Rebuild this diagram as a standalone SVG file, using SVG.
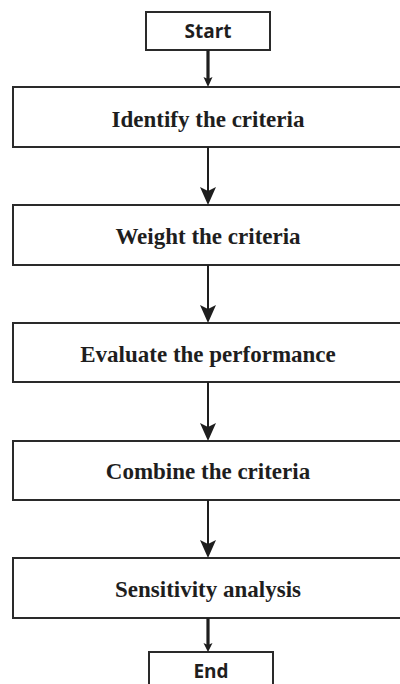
<svg xmlns="http://www.w3.org/2000/svg" width="400" height="684" viewBox="0 0 400 684">
<defs>
<style>
.box{fill:#fff;stroke:#2a2a2a;stroke-width:2}
.t{font-family:"Liberation Serif","Times New Roman",serif;font-weight:bold;font-size:23px;fill:#1e1e1e;text-anchor:middle}
.s{font-family:"Open Sans","Liberation Sans",sans-serif;font-weight:bold;font-size:19px;fill:#1e1e1e;text-anchor:middle}
.thin{stroke:#1e1e1e;stroke-width:2;fill:none}
.thick{stroke:#1e1e1e;stroke-width:3.2;fill:none}
.head{fill:#1e1e1e}
</style>
</defs>
<rect width="400" height="684" fill="#fff"/>
<g id="start"><rect class="box" x="146" y="12" width="124" height="38"/><text class="s" x="208" y="37.5">Start</text></g>
<g id="identify"><rect class="box" x="13" y="87" width="395" height="60"/><text class="t" x="208" y="126.5">Identify the criteria</text></g>
<g id="weight"><rect class="box" x="13" y="205" width="395" height="60"/><text class="t" x="208" y="244">Weight the criteria</text></g>
<g id="evaluate"><rect class="box" x="13" y="323" width="395" height="59"/><text class="t" x="208" y="361.5">Evaluate the performance</text></g>
<g id="combine"><rect class="box" x="13" y="441" width="395" height="59"/><text class="t" x="208" y="479">Combine the criteria</text></g>
<g id="sensitivity"><rect class="box" x="13" y="558" width="395" height="60"/><text class="t" x="208" y="597">Sensitivity analysis</text></g>
<g id="end"><rect class="box" x="149" y="652" width="124" height="40"/><text class="s" x="211" y="677.5">End</text></g>
<g id="connectors">
<line class="thick" x1="208" y1="50" x2="208" y2="80"/><path class="head" d="M208 87 L203.5 77 L208 79 L212.5 77 Z"/>
<line class="thin" x1="208" y1="147" x2="208" y2="195"/><path class="head" d="M208 205 L200 187 L208 191 L216 187 Z"/>
<line class="thin" x1="208" y1="265" x2="208" y2="313"/><path class="head" d="M208 323 L200 305 L208 309 L216 305 Z"/>
<line class="thin" x1="208" y1="382" x2="208" y2="431"/><path class="head" d="M208 441 L200 423 L208 427 L216 423 Z"/>
<line class="thin" x1="208" y1="500" x2="208" y2="548"/><path class="head" d="M208 558 L200 540 L208 544 L216 540 Z"/>
<line class="thick" x1="208" y1="618" x2="208" y2="645"/><path class="head" d="M208 652 L203.5 643 L208 645 L212.5 643 Z"/>
</g>
</svg>
